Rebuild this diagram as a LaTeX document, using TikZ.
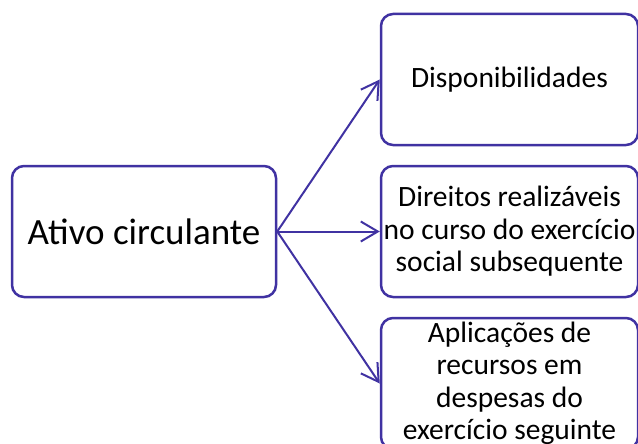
\documentclass[tikz,border=0pt]{standalone}
\usepackage{fontspec}
\setmainfont{Carlito}
\usetikzlibrary{arrows.meta}
\definecolor{boxblue}{RGB}{64,50,162}

\begin{document}
\begin{tikzpicture}
[x=1pt,y=1pt,%
  every node/.style={shape=rectangle,rounded corners=12pt,draw=boxblue,line width=2.5pt,align=center},%
  rightbox/.style={minimum width=257,minimum height=131,inner sep=1pt,font=\fontsize{29.5}{32.5}\selectfont}]
\useasboundingbox (0,0) rectangle (638,-444);
\node[minimum width=264,minimum height=131,font=\fontsize{37}{44}\selectfont] (ativo) at (144,-231.5) {Ativo circulante};
%%
\node[rightbox] (disp) at (509.5,-79.5) {Disponibilidades};
%%
\node[rightbox] (direitos) at (509.5,-231.5) {Direitos realizáveis\\no curso do exercício\\social subsequente};
%%
\node[rightbox] (aplic) at (509.5,-383.5) {Aplicações de\\recursos em\\despesas do\\exercício seguinte};
\path
\foreach \startNode/\endNode in {ativo/disp, ativo/direitos, ativo/aplic}
{
  (\startNode.east) edge[->,>={Straight Barb[length=17pt,width=20pt]},draw=boxblue,line width=2pt] (\endNode.west)
};
\end{tikzpicture}
\end{document}
